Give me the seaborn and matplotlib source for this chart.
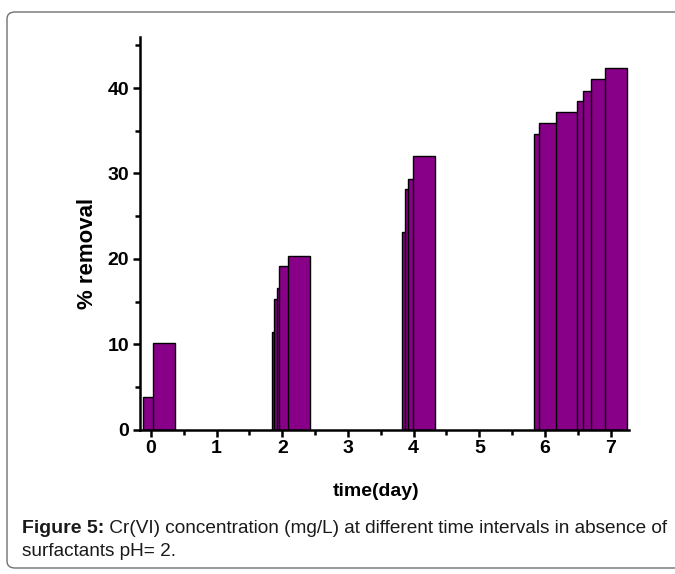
import matplotlib
matplotlib.use("Agg")
import matplotlib.pyplot as plt
from matplotlib.patches import FancyBboxPatch
from matplotlib.ticker import MultipleLocator
import seaborn as sns
import pandas as pd

# Sampling times (days) and Cr(VI) removal (%)
time_day = [0.044, 0.205,
            2.007, 2.042, 2.083, 2.123, 2.255,
            3.996, 4.036, 4.077, 4.163,
            5.997, 6.077, 6.330, 6.660, 6.750, 6.870, 7.080]
removal = [3.8, 10.2,
           11.5, 15.3, 16.6, 19.2, 20.4,
           23.1, 28.2, 29.4, 32.1,
           34.6, 35.9, 37.2, 38.5, 39.7, 41.0, 42.3]
x_ticks = [0, 1, 2, 3, 4, 5, 6, 7]
y_ticks = [0, 10, 20, 30, 40]

bar_width = 0.335
bar_color = "#880088"

caption_bold = "Figure 5:"
caption_rest = " Cr(VI) concentration (mg/L) at different time intervals in absence of"
caption_line2 = "surfactants pH= 2."

sns.set_style("ticks")
plt.rcParams["font.family"] = ["Liberation Sans", "DejaVu Sans"]

df = pd.DataFrame({"time": time_day, "removal": removal})

fig = plt.figure(figsize=(6.75, 5.74), dpi=100)
ax = fig.add_axes([0.207, 0.251, 0.725, 0.685])

sns.barplot(data=df, x="time", y="removal", native_scale=True, orient="x",
            color=bar_color, saturation=1, errorbar=None,
            edgecolor="black", linewidth=1.0, ax=ax)

# give every bar the common width around its own time value
for p in ax.patches:
    c = p.get_x() + p.get_width() / 2
    p.set_width(bar_width)
    p.set_x(c - bar_width / 2)
    p.set_facecolor(bar_color)

ax.set_xlim(-0.17, 7.28)
ax.set_ylim(0, 46)
ax.set_xticks(x_ticks)
ax.set_yticks(y_ticks)
ax.xaxis.set_minor_locator(MultipleLocator(0.5))
ax.yaxis.set_minor_locator(MultipleLocator(5))
ax.set_xticklabels([str(t) for t in x_ticks], fontweight="bold", fontsize=14, color="black")
ax.set_yticklabels([str(t) for t in y_ticks], fontweight="bold", fontsize=14, color="black")

for s in ["top", "right"]:
    ax.spines[s].set_visible(False)
for s in ["left", "bottom"]:
    ax.spines[s].set_linewidth(1.8)
    ax.spines[s].set_color("black")
ax.tick_params(which="major", length=5, width=1.8, direction="out", pad=2.5, colors="black")
ax.tick_params(which="minor", length=3.5, width=1.8, direction="out", colors="black")

ax.set_xlabel("time(day)", fontweight="bold", fontsize=14, color="black")
ax.set_ylabel("% removal", fontweight="bold", fontsize=16, color="black")
ax.xaxis.set_label_coords(0.483, -0.135)
ax.yaxis.set_label_coords(-0.086, 0.45)

# rounded frame around figure and caption
frame = FancyBboxPatch((7 / 675, 6 / 574), 680 / 675, (562 - 6) / 574,
                       boxstyle="round,pad=0,rounding_size=0.012",
                       transform=fig.transFigure, fill=False,
                       edgecolor="#707070", linewidth=1.0, clip_on=False)
fig.patches.append(frame)

t1 = fig.text(22 / 675, 1 - 533 / 574, caption_bold, fontweight="bold",
              fontsize=14, va="baseline", ha="left", color="#1a1a1a")
fig.canvas.draw()
bb = t1.get_window_extent()
fig.text(bb.x1 / 675, 1 - 533 / 574, caption_rest, fontsize=13.7,
         va="baseline", ha="left", color="#1a1a1a")
fig.text(22 / 675, 1 - 556 / 574, caption_line2, fontsize=13.7,
         va="baseline", ha="left", color="#1a1a1a")

fig.savefig("out.png", dpi=100)
